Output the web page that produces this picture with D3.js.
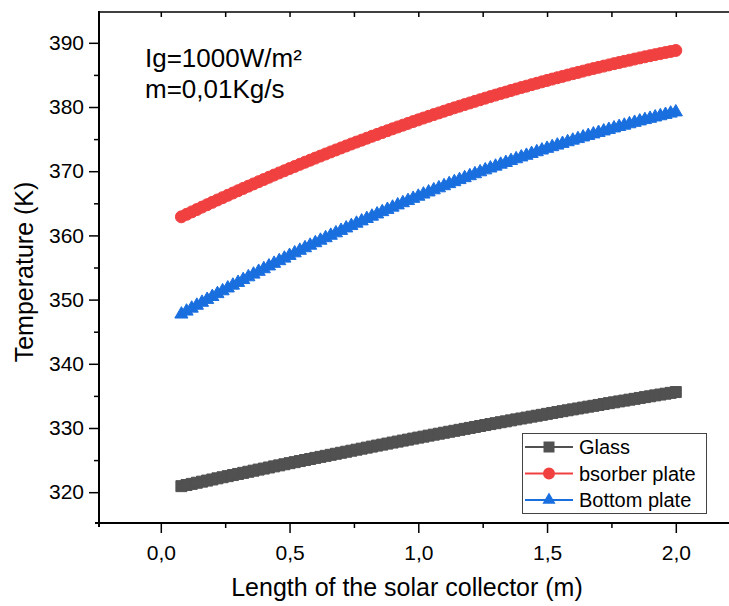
<!DOCTYPE html>
<html>
<head>
<meta charset="utf-8">
<script src="https://cdn.jsdelivr.net/npm/d3@7"></script>
<style>
  html, body { margin: 0; padding: 0; background: #fff; }
  svg { display: block; font-family: Arial, "Liberation Sans", sans-serif; }
</style>
</head>
<body>
<div id="chart"></div>
<script>
// collector length (m)
const lengthM = [
  0.08, 0.10, 0.12, 0.14, 0.16, 0.18, 0.20, 0.22, 0.24, 0.26,
  0.28, 0.30, 0.32, 0.34, 0.36, 0.38, 0.40, 0.42, 0.44, 0.46,
  0.48, 0.50, 0.52, 0.54, 0.56, 0.58, 0.60, 0.62, 0.64, 0.66,
  0.68, 0.70, 0.72, 0.74, 0.76, 0.78, 0.80, 0.82, 0.84, 0.86,
  0.88, 0.90, 0.92, 0.94, 0.96, 0.98, 1.00, 1.02, 1.04, 1.06,
  1.08, 1.10, 1.12, 1.14, 1.16, 1.18, 1.20, 1.22, 1.24, 1.26,
  1.28, 1.30, 1.32, 1.34, 1.36, 1.38, 1.40, 1.42, 1.44, 1.46,
  1.48, 1.50, 1.52, 1.54, 1.56, 1.58, 1.60, 1.62, 1.64, 1.66,
  1.68, 1.70, 1.72, 1.74, 1.76, 1.78, 1.80, 1.82, 1.84, 1.86,
  1.88, 1.90, 1.92, 1.94, 1.96, 1.98, 2.00
];

// temperatures (K)
const glassT = [
  320.94, 321.12, 321.29, 321.47, 321.64, 321.81, 321.98, 322.16, 322.33, 322.50,
  322.67, 322.84, 323.01, 323.18, 323.35, 323.52, 323.68, 323.85, 324.02, 324.18,
  324.35, 324.52, 324.68, 324.85, 325.01, 325.17, 325.34, 325.50, 325.66, 325.82,
  325.98, 326.14, 326.30, 326.46, 326.62, 326.78, 326.94, 327.10, 327.26, 327.41,
  327.57, 327.73, 327.88, 328.04, 328.19, 328.35, 328.50, 328.65, 328.81, 328.96,
  329.11, 329.26, 329.41, 329.56, 329.71, 329.86, 330.01, 330.16, 330.31, 330.46,
  330.61, 330.75, 330.90, 331.04, 331.19, 331.34, 331.48, 331.62, 331.77, 331.91,
  332.05, 332.20, 332.34, 332.48, 332.62, 332.76, 332.90, 333.04, 333.18, 333.32,
  333.45, 333.59, 333.73, 333.87, 334.00, 334.14, 334.27, 334.41, 334.54, 334.68,
  334.81, 334.94, 335.08, 335.21, 335.34, 335.47, 335.60
];
const absorberT = [
  362.90, 363.28, 363.66, 364.03, 364.41, 364.78, 365.15, 365.52, 365.88, 366.24,
  366.60, 366.96, 367.32, 367.67, 368.02, 368.37, 368.71, 369.06, 369.40, 369.74,
  370.07, 370.41, 370.74, 371.07, 371.40, 371.72, 372.04, 372.36, 372.68, 373.00,
  373.31, 373.62, 373.93, 374.24, 374.54, 374.84, 375.14, 375.44, 375.73, 376.02,
  376.31, 376.60, 376.89, 377.17, 377.45, 377.73, 378.00, 378.28, 378.55, 378.82,
  379.08, 379.35, 379.61, 379.87, 380.13, 380.38, 380.63, 380.88, 381.13, 381.38,
  381.62, 381.86, 382.10, 382.33, 382.57, 382.80, 383.03, 383.25, 383.48, 383.70,
  383.92, 384.14, 384.35, 384.56, 384.77, 384.98, 385.19, 385.39, 385.59, 385.79,
  385.99, 386.18, 386.37, 386.56, 386.75, 386.93, 387.11, 387.29, 387.47, 387.65,
  387.82, 387.99, 388.16, 388.32, 388.49, 388.65, 388.81
];
const bottomT = [
  347.72, 348.18, 348.64, 349.09, 349.55, 350.00, 350.45, 350.90, 351.34, 351.78,
  352.22, 352.65, 353.09, 353.52, 353.94, 354.37, 354.78, 355.21, 355.62, 356.03,
  356.43, 356.85, 357.25, 357.65, 358.05, 358.44, 358.83, 359.22, 359.61, 359.99,
  360.37, 360.75, 361.13, 361.50, 361.87, 362.23, 362.60, 362.96, 363.31, 363.67,
  364.02, 364.37, 364.72, 365.06, 365.40, 365.74, 366.07, 366.41, 366.74, 367.07,
  367.38, 367.71, 368.03, 368.34, 368.66, 368.96, 369.27, 369.57, 369.88, 370.18,
  370.47, 370.76, 371.06, 371.33, 371.63, 371.91, 372.19, 372.45, 372.73, 373.00,
  373.27, 373.53, 373.79, 374.04, 374.30, 374.56, 374.81, 375.05, 375.30, 375.54,
  375.78, 376.01, 376.24, 376.48, 376.71, 376.93, 377.14, 377.36, 377.58, 377.80,
  378.01, 378.21, 378.42, 378.61, 378.82, 379.02, 379.21
];

const seriesNames = ["Glass", "bsorber plate", "Bottom plate"];
const xMajor = [0, 0.5, 1.0, 1.5, 2.0];
const xMinor = [0.25, 0.75, 1.25, 1.75];
const yMajor = [320, 330, 340, 350, 360, 370, 380, 390];
const yMinor = [325, 335, 345, 355, 365, 375, 385];
const noteLines = ["Ig=1000W/m²", "m=0,01Kg/s"];

const width = 729, height = 606;

const svg = d3.select("#chart")
  .append("svg")
  .attr("width", width)
  .attr("height", height);

// scales (frame: left x=99, bottom y=523, top y=12)
const x = d3.scaleLinear().domain([-0.24, 2.34]).range([99, 99 + 2.58 * 257.5]);
const y = d3.scaleLinear().domain([315.2, 394.8]).range([523, 12]);

const comma = d => d3.format(".1f")(d).replace(".", ",");

// bottom axis
const gxMinor = svg.append("g")
  .attr("transform", "translate(0,523)")
  .call(d3.axisBottom(x).tickValues(xMinor).tickSize(5).tickFormat(""));
const gx = svg.append("g")
  .attr("transform", "translate(0,523)")
  .call(d3.axisBottom(x).tickValues(xMajor).tickSize(10).tickPadding(12).tickFormat(comma));

// left axis
const gyMinor = svg.append("g")
  .attr("transform", "translate(99,0)")
  .call(d3.axisLeft(y).tickValues(yMinor).tickSize(5).tickFormat(""));
const gy = svg.append("g")
  .attr("transform", "translate(99,0)")
  .call(d3.axisLeft(y).tickValues(yMajor).tickSize(10).tickPadding(5).tickFormat(d3.format("d")));

// top axis, ticks pointing inward
const gTop = svg.append("g")
  .attr("transform", "translate(0,12)")
  .call(d3.axisTop(x).tickValues(xMajor.concat(xMinor)).tickSize(-5).tickFormat(""));

[gxMinor, gx, gyMinor, gy, gTop].forEach(g => {
  g.select(".domain").remove();
  g.selectAll(".tick line").attr("stroke", "#000").attr("stroke-width", 1.5);
  g.selectAll(".tick text").attr("fill", "#000").style("font-size", "21px");
});

// frame lines
svg.append("line").attr("x1", 99).attr("x2", 99).attr("y1", 11).attr("y2", 527)
  .attr("stroke", "#000").attr("stroke-width", 2);
svg.append("line").attr("x1", 95).attr("x2", width).attr("y1", 523).attr("y2", 523)
  .attr("stroke", "#000").attr("stroke-width", 2);
svg.append("line").attr("x1", 98).attr("x2", width).attr("y1", 12).attr("y2", 12)
  .attr("stroke", "#000").attr("stroke-width", 1.5);

// series
const series = [
  { name: seriesNames[0], values: glassT, color: "#515151", symbol: d3.symbolSquare, size: 121 },
  { name: seriesNames[1], values: absorberT, color: "#F14040", symbol: d3.symbolCircle, size: 113 },
  { name: seriesNames[2], values: bottomT, color: "#1A6FDF", symbol: d3.symbolTriangle, size: 75 }
];

const line = d3.line()
  .x(d => x(d[0]))
  .y(d => y(d[1]));

series.forEach(s => {
  const pts = lengthM.map((v, i) => [v, s.values[i]]);
  const g = svg.append("g");
  g.append("path")
    .datum(pts)
    .attr("d", line)
    .attr("fill", "none")
    .attr("stroke", s.color)
    .attr("stroke-width", 2);
  g.selectAll("path.pt")
    .data(pts)
    .join("path")
    .attr("class", "pt")
    .attr("transform", d => `translate(${x(d[0])},${y(d[1])})`)
    .attr("d", d3.symbol().type(s.symbol).size(s.size))
    .attr("fill", s.color)
    .attr("stroke", s.color)
    .attr("stroke-width", 1);
});

// annotation
svg.append("g").selectAll("text")
  .data(noteLines)
  .join("text")
  .attr("x", 145)
  .attr("y", (d, i) => 67 + i * 31)
  .style("font-size", "26px")
  .attr("fill", "#000")
  .text(d => d);

// legend
const legend = svg.append("g");
legend.append("rect")
  .attr("x", 522.5).attr("y", 433.5)
  .attr("width", 184).attr("height", 80)
  .attr("fill", "#fff")
  .attr("stroke", "#444")
  .attr("stroke-width", 1);
series.forEach((s, i) => {
  const ly = 447 + i * 26.5;
  legend.append("line")
    .attr("x1", 525).attr("x2", 573).attr("y1", ly).attr("y2", ly)
    .attr("stroke", s.color).attr("stroke-width", 2);
  legend.append("path")
    .attr("transform", `translate(549,${ly})`)
    .attr("d", d3.symbol().type(s.symbol).size(s.size))
    .attr("fill", s.color);
  legend.append("text")
    .attr("x", 579).attr("y", ly)
    .attr("dy", "0.36em")
    .style("font-size", "20px")
    .attr("fill", "#000")
    .text(s.name);
});

// axis titles
svg.append("text")
  .attr("x", 407).attr("y", 596)
  .attr("text-anchor", "middle")
  .style("font-size", "25px")
  .attr("fill", "#000")
  .text("Length of the solar collector (m)");

svg.append("text")
  .attr("transform", "translate(33,272) rotate(-90)")
  .attr("text-anchor", "middle")
  .style("font-size", "25px")
  .attr("fill", "#000")
  .text("Temperature (K)");
</script>
</body>
</html>
